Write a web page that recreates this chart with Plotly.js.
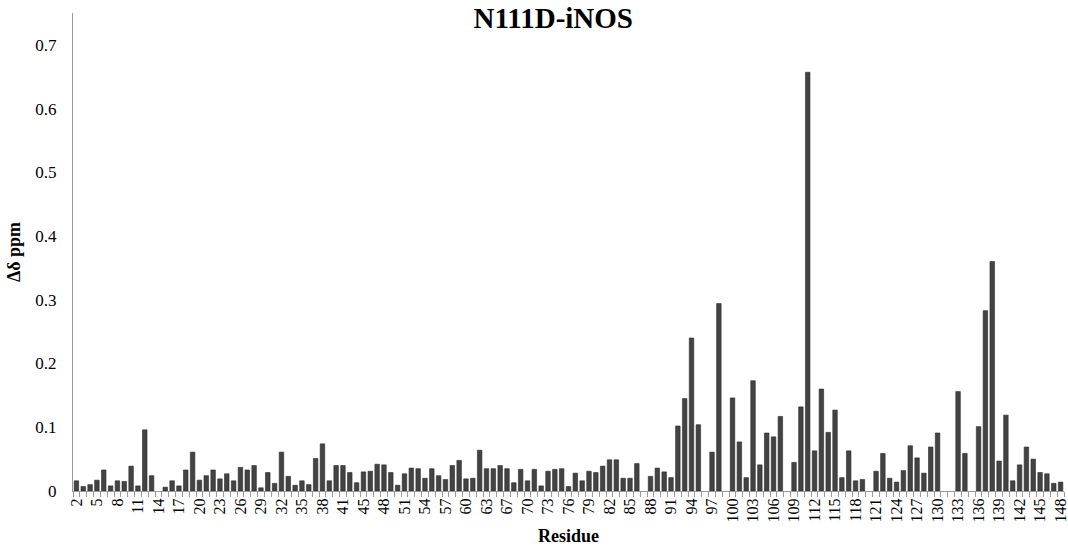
<!DOCTYPE html>
<html>
<head>
<meta charset="utf-8">
<script src="https://cdn.plot.ly/plotly-3.0.1.min.js"></script>
<style>
  html, body { margin: 0; padding: 0; background: #fff; }
  #chart { width: 1068px; height: 546px; }
</style>
</head>
<body>
<div id="chart"></div>
<script>
// Residue numbers (44 and 66 were not assigned)
const residues = [
  2,3,4,5,6,7,8,9,10,11,12,13,14,15,16,17,18,19,20,21,22,23,24,25,26,27,28,29,30,31,
  32,33,34,35,36,37,38,39,40,41,42,43,45,46,47,48,49,50,51,52,53,54,55,56,57,58,59,60,61,62,
  63,64,65,67,68,69,70,71,72,73,74,75,76,77,78,79,80,81,82,83,84,85,86,87,88,89,90,91,92,93,
  94,95,96,97,98,99,100,101,102,103,104,105,106,107,108,109,110,111,112,113,114,115,116,117,118,119,120,121,122,123,
  124,125,126,127,128,129,130,131,132,133,134,135,136,137,138,139,140,141,142,143,144,145,146,147,148
].map(String);

// Chemical shift perturbation per residue (ppm); null = no peak
const shiftPpm = [
  0.016,0.007,0.010,0.017,0.033,0.008,0.016,0.015,0.039,0.008,0.096,0.024,null,0.006,0.016,0.008,0.033,0.061,0.017,0.024,
  0.033,0.019,0.027,0.016,0.037,0.033,0.040,0.005,0.029,0.012,
  0.061,0.023,0.009,0.016,0.010,0.051,0.074,0.016,0.040,0.040,0.029,0.013,0.030,0.031,0.042,0.041,0.029,0.009,0.027,0.036,
  0.035,0.020,0.035,0.024,0.018,0.040,0.048,0.019,0.020,0.064,
  0.035,0.035,0.040,0.035,0.013,0.034,0.016,0.034,0.008,0.031,0.034,0.035,0.007,0.028,0.016,0.031,0.029,0.039,0.049,0.049,
  0.020,0.020,0.043,null,0.023,0.036,0.030,0.021,0.102,0.145,
  0.240,0.104,null,0.061,0.294,null,0.146,0.077,0.021,0.173,0.041,0.091,0.085,0.117,null,0.045,0.132,0.657,0.063,0.160,
  0.092,0.127,0.021,0.063,0.016,0.018,null,0.031,0.059,0.020,
  0.014,0.032,0.071,0.052,0.028,0.069,0.091,null,null,0.156,0.059,null,0.101,0.283,0.360,0.047,0.119,0.016,0.041,0.069,
  0.050,0.029,0.027,0.012,0.014
];

// Residues that carry a tick label on the x axis
const labeledResidues = [
  2,5,8,11,14,17,20,23,26,29,32,35,38,41,45,48,51,54,57,60,63,67,70,73,76,79,82,85,88,91,
  94,97,100,103,106,109,112,115,118,121,124,127,130,133,136,139,142,145,148
].map(String);

// y axis tick values
const yTicks = [0, 0.1, 0.2, 0.3, 0.4, 0.5, 0.6, 0.7];

const serif = '"Liberation Serif", "Times New Roman", serif';

const trace = {
  type: 'bar',
  x: residues,
  y: shiftPpm,
  marker: { color: '#434343', line: { color: '#2a2a2a', width: 0.6 } },
  hoverinfo: 'x+y'
};

const layout = {
  width: 1068,
  height: 546,
  margin: { l: 73, r: 4, t: 13, b: 55 },
  paper_bgcolor: '#ffffff',
  plot_bgcolor: '#ffffff',
  bargap: 0.34,
  showlegend: false,
  font: { family: serif, color: '#000' },
  title: {
    text: '<b>N111D-iNOS</b>',
    font: { family: serif, size: 29, color: '#000' },
    xref: 'container', x: 0.518, xanchor: 'center',
    yref: 'container', y: 0.967, yanchor: 'middle'
  },
  xaxis: {
    type: 'category',
    tickmode: 'array',
    tickvals: residues,
    ticktext: residues.map(r => labeledResidues.includes(r) ? r : ''),
    tickson: 'boundaries',
    ticks: 'outside',
    ticklen: 5,
    tickcolor: '#9a9a9a',
    tickangle: -90,
    tickfont: { family: serif, size: 16, color: '#000' },
    showline: true,
    linecolor: '#9a9a9a',
    linewidth: 1,
    showgrid: false,
    zeroline: false,
    automargin: false,
    title: {
      text: '<b>Residue</b>',
      font: { family: serif, size: 18, color: '#000' },
      standoff: 7
    }
  },
  yaxis: {
    range: [0, 0.75],
    tickmode: 'array',
    tickvals: yTicks,
    ticktext: yTicks.map(v => String(v)),
    ticks: '',
    ticklabelstandoff: 12,
    tickfont: { family: serif, size: 17, color: '#000' },
    showline: true,
    linecolor: '#9a9a9a',
    linewidth: 1,
    showgrid: false,
    zeroline: false,
    automargin: false,
    title: {
      text: '<b>Δδ ppm</b>',
      font: { family: serif, size: 18, color: '#000' },
      standoff: 10
    }
  }
};

Plotly.newPlot('chart', [trace], layout, { displayModeBar: false, staticPlot: true });
</script>
</body>
</html>
